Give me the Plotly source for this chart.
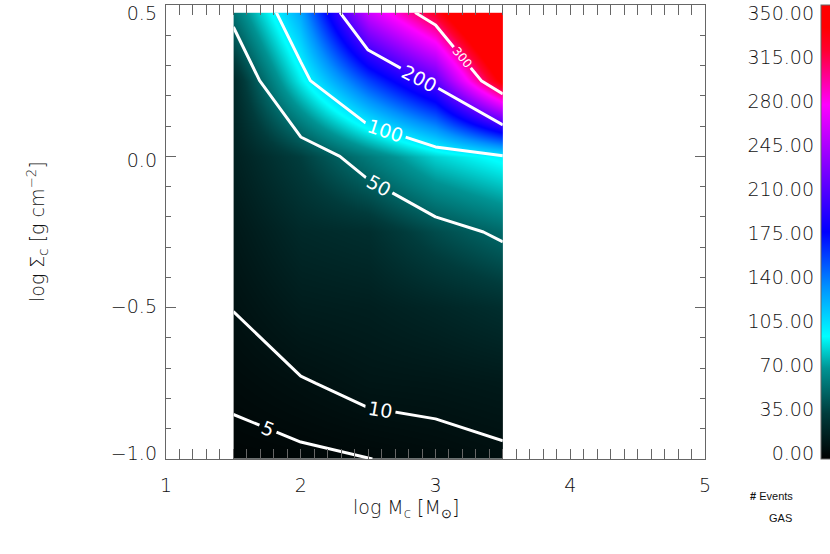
import plotly.graph_objects as go

# grid of the map: log M_c along x, log Sigma_c along y
log_mc = [1.5, 2.0, 2.5, 3.0, 3.5]
log_sigma = [-1.0, -0.75, -0.5, -0.25, 0.0, 0.25, 0.475]

# number of events, one row per log_sigma value
events = [
    [3.0, 3.76, 4.9, 6.5, 8.5],
    [6.4, 9.3, 12.4, 13.1, 14.75],
    [10.2, 16.6, 18.0, 22.0, 27.0],
    [14.0, 24.0, 27.0, 41.4, 53.5],
    [19.0, 36.0, 60.1, 84.4, 98.5],
    [24.0, 90.7, 155.9, 210.0, 342.5],
    [57.0, 124.4, 254.0, 320.0, 430.0],
]

levels = [5, 10, 50, 100, 200, 300]
label_sizes = [19, 19, 19, 19, 19, 12]

x_ticks = [1, 2, 3, 4, 5]
y_ticks = [-1.0, -0.5, 0.0, 0.5]
y_ticktext = ['\u22121.0', '\u22120.5', '0.0', '0.5']
cbar_ticks = [0, 35, 70, 105, 140, 175, 210, 245, 280, 315, 350]

FONT = 'DejaVu Sans'
TXT = '#111111'
AX = '#666666'

colors = [
    [0.00, '#000000'],
    [0.10, '#003c3c'],
    [0.20, '#009494'],
    [0.27, '#00ffff'],
    [0.38, '#0090ff'],
    [0.50, '#0000ff'],
    [0.64, '#7f00ff'],
    [0.78, '#ff00ff'],
    [0.90, '#ff0030'],
    [0.95, '#ff0000'],
    [1.00, '#ff0000'],
]

plot_w = 830 - 166
bar_x = (821 - 166) / plot_w
tick_font = dict(family=FONT, size=19, color=TXT, weight=300)

fig = go.Figure()

fig.add_trace(go.Contour(
    x=log_mc, y=log_sigma, z=events,
    colorscale=colors, zmin=0, zmax=350, zauto=False,
    contours=dict(coloring='heatmap', showlines=False, start=0, end=350, size=350),
    line=dict(width=0),
    hoverinfo='skip',
    showscale=True,
    colorbar=dict(
        x=bar_x, xanchor='left', y=0.5, yanchor='middle',
        len=1, lenmode='fraction', thickness=14,
        xpad=0, ypad=0, outlinewidth=1, outlinecolor=AX,
        showticklabels=False, ticks='',
    ),
))

for lv, ls in zip(levels, label_sizes):
    fig.add_trace(go.Contour(
        x=log_mc, y=log_sigma, z=events,
        autocontour=False,
        contours=dict(start=lv, end=lv, size=1, coloring='none', showlabels=True,
                      labelfont=dict(family=FONT, size=ls, color='white')),
        line=dict(color='white', width=3, smoothing=0),
        showscale=False, hoverinfo='skip',
    ))

# invisible traces so that the label-only axes get drawn
fig.add_trace(go.Scatter(x=[None], y=[None], yaxis='y2', showlegend=False, hoverinfo='skip'))
fig.add_trace(go.Scatter(x=[None], y=[None], yaxis='y3', showlegend=False, hoverinfo='skip'))

axis_common = dict(
    showline=True, linecolor=AX, linewidth=1.2, mirror='allticks',
    ticks='inside', ticklen=10, tickcolor=AX, tickwidth=1.2,
    showgrid=False, zeroline=False, automargin=False, ticklabeloverflow='allow',
    tickfont=tick_font,
)
label_axis = dict(overlaying='y', side='left', ticks='', automargin=False,
                  ticklabeloverflow='allow', showline=False, showgrid=False,
                  zeroline=False, tickfont=tick_font)

fig.update_layout(
    width=830, height=554,
    margin=dict(l=166, r=0, t=5, b=95, autoexpand=False),
    paper_bgcolor='white', plot_bgcolor='white',
    showlegend=False,
    xaxis=dict(range=[1, 5], domain=[0, 539 / plot_w], tickvals=x_ticks,
               ticklabelstandoff=9,
               minor=dict(ticks='inside', ticklen=5, dtick=0.1, tick0=1, tickcolor=AX, showgrid=False),
               **axis_common),
    yaxis=dict(range=[-1, 0.5], tickvals=y_ticks, showticklabels=False,
               minor=dict(ticks='inside', ticklen=5, dtick=0.1, tick0=0, tickcolor=AX, showgrid=False),
               **axis_common),
    # tick labels of the left axis, drawn slightly inset like the original
    yaxis3=dict(anchor='x', range=[-1.02, 0.53], tickvals=y_ticks, ticktext=y_ticktext,
                ticklabelstandoff=8, **label_axis),
    # value labels of the colour bar
    yaxis2=dict(anchor='free', position=bar_x, range=[-4.8, 357],
                tickvals=cbar_ticks, ticktext=['%.2f' % v for v in cbar_ticks],
                ticklabelstandoff=7, **label_axis),
    annotations=[
        dict(text='log M<sub>c</sub> [M<sub>\u2299</sub>]', x=(406 - 166) / plot_w, y=(459 - 508) / 454,
             xref='paper', yref='paper', showarrow=False, xanchor='center', yanchor='middle',
             font=tick_font),
        dict(text='log \u03a3<sub>c</sub> [g cm<sup>\u22122</sup>]', x=(37 - 166) / plot_w, y=0.5,
             xref='paper', yref='paper', showarrow=False, textangle=-90,
             xanchor='center', yanchor='middle',
             font=tick_font),
        dict(text='<b>#</b> Events', x=(771 - 166) / plot_w, y=(459 - 496) / 454,
             xref='paper', yref='paper', showarrow=False, xanchor='center', yanchor='middle',
             font=dict(family='Liberation Sans', size=11, color='#111111')),
        dict(text='GAS', x=(780 - 166) / plot_w, y=(459 - 518) / 454,
             xref='paper', yref='paper', showarrow=False, xanchor='center', yanchor='middle',
             font=dict(family='Liberation Sans', size=11, color='#111111')),
    ],
)

fig.write_html('out.html', config={'displayModeBar': False},
               post_script="document.body.style.margin = '0';")
